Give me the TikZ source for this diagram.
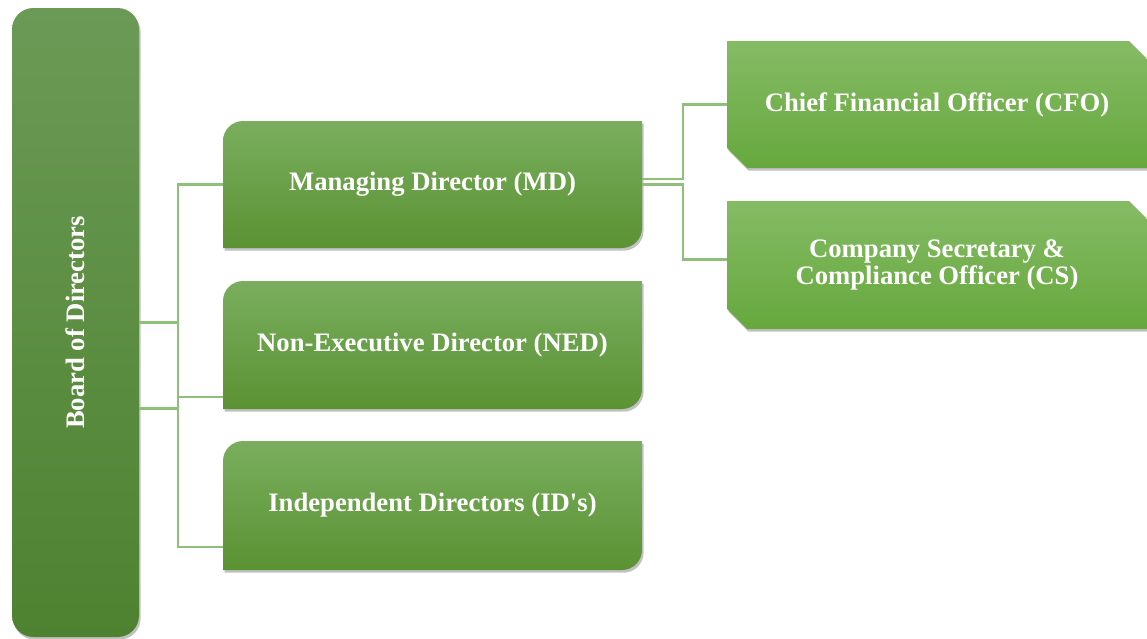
\documentclass[tikz,border=0pt]{standalone}
\usepackage{fontspec}
\setmainfont{Liberation Serif}
\usetikzlibrary{calc,shadows}
\definecolor{boardtop}{HTML}{6B9A56}
\definecolor{boardbot}{HTML}{4E8230}
\definecolor{midtop}{HTML}{7AAE5E}
\definecolor{midbot}{HTML}{5A9233}
\definecolor{rtop}{HTML}{85BB65}
\definecolor{rbot}{HTML}{66A83D}
\definecolor{conncol}{HTML}{8FC07A}
\tikzset{
  lbl/.style={text=white,font=\fontsize{20}{20.5}\selectfont\bfseries,align=center,inner sep=0pt},
  shd/.style={drop shadow={shadow xshift=1.2pt,shadow yshift=-2pt,opacity=0.35,fill=black!70}},
  conn/.style={draw=conncol,line width=1.8pt},
  midfill/.style={top color=midtop,bottom color=midbot,shd},
  rfill/.style={top color=rtop,bottom color=rbot,shd},
}
\begin{document}
\begin{tikzpicture}[x=0.75pt,y=-0.75pt]
\useasboundingbox (0,0) rectangle (1147,639);
% shapes
\path[top color=boardtop,bottom color=boardbot,shd,rounded corners=16pt] (12,8) rectangle (139,637);
\newcommand\midshape[2]{%
  \path[midfill] (223,#2) -- (223,#1+20) .. controls (223,#1+9) and (232,#1) .. (243,#1) -- (642,#1) -- (642,#2-20) .. controls (642,#2-9) and (633,#2) .. (622,#2) -- cycle;}
\midshape{121}{248}
\midshape{281}{409}
\midshape{441}{570}
\newcommand\rshape[2]{%
  \path[rfill] (727,#1) -- (1129,#1) -- (1147,#1+18) -- (1147,#2) -- (747,#2) -- (727,#2-20) -- cycle;}
\rshape{41}{168}
\rshape{201}{329}
% nodes
\node[lbl,minimum width=95pt,minimum height=471.75pt] (board) at (75.5,322.5) {};
\node[lbl,rotate=90] (boardtxt) at ($(board.center)+(0,0)$) {Board of Directors};
\node[lbl,minimum width=314.25pt,minimum height=95.25pt] (md) at (432.5,184.5) {Managing Director (MD)};
\node[lbl,minimum width=314.25pt,minimum height=96pt] (ned) at (432.5,345) {Non-Executive Director (NED)};
\node[lbl,minimum width=314.25pt,minimum height=96.75pt] (id) at (432.5,505.5) {Independent Directors (ID\textquotesingle s)};
\node[lbl,minimum width=315pt,minimum height=95.25pt] (cfo) at (937,104.5) {Chief Financial Officer (CFO)};
\node[lbl,minimum width=315pt,minimum height=96pt] (cs) at (937,265) {Company Secretary \&\\Compliance Officer (CS)};
% connectors
\coordinate (j1) at (178,322.5);
\coordinate (j2) at (178,408.5);
\coordinate (nedin) at ($(ned.west)+(0,52)$);
\coordinate (idin) at ($(id.west)+(0,41.5)$);
\coordinate (mdout) at ($(md.east)+(0,-5.5)$);
\coordinate (k1) at (683,179);
\coordinate (k2) at (683,184.5);
\coordinate (csin) at ($(cs.west)+(0,-5.5)$);
\draw[conn] (board.east) -- (j1) |- (md.west);
\draw[conn] (board.east |- j2) -- (j2) |- (nedin);
\draw[conn] (j1) -- (j2) |- (idin);
\draw[conn] (mdout) -- (k1) |- (cfo.west);
\draw[conn] (md.east) -- (k2) |- (csin);
\end{tikzpicture}
\end{document}
